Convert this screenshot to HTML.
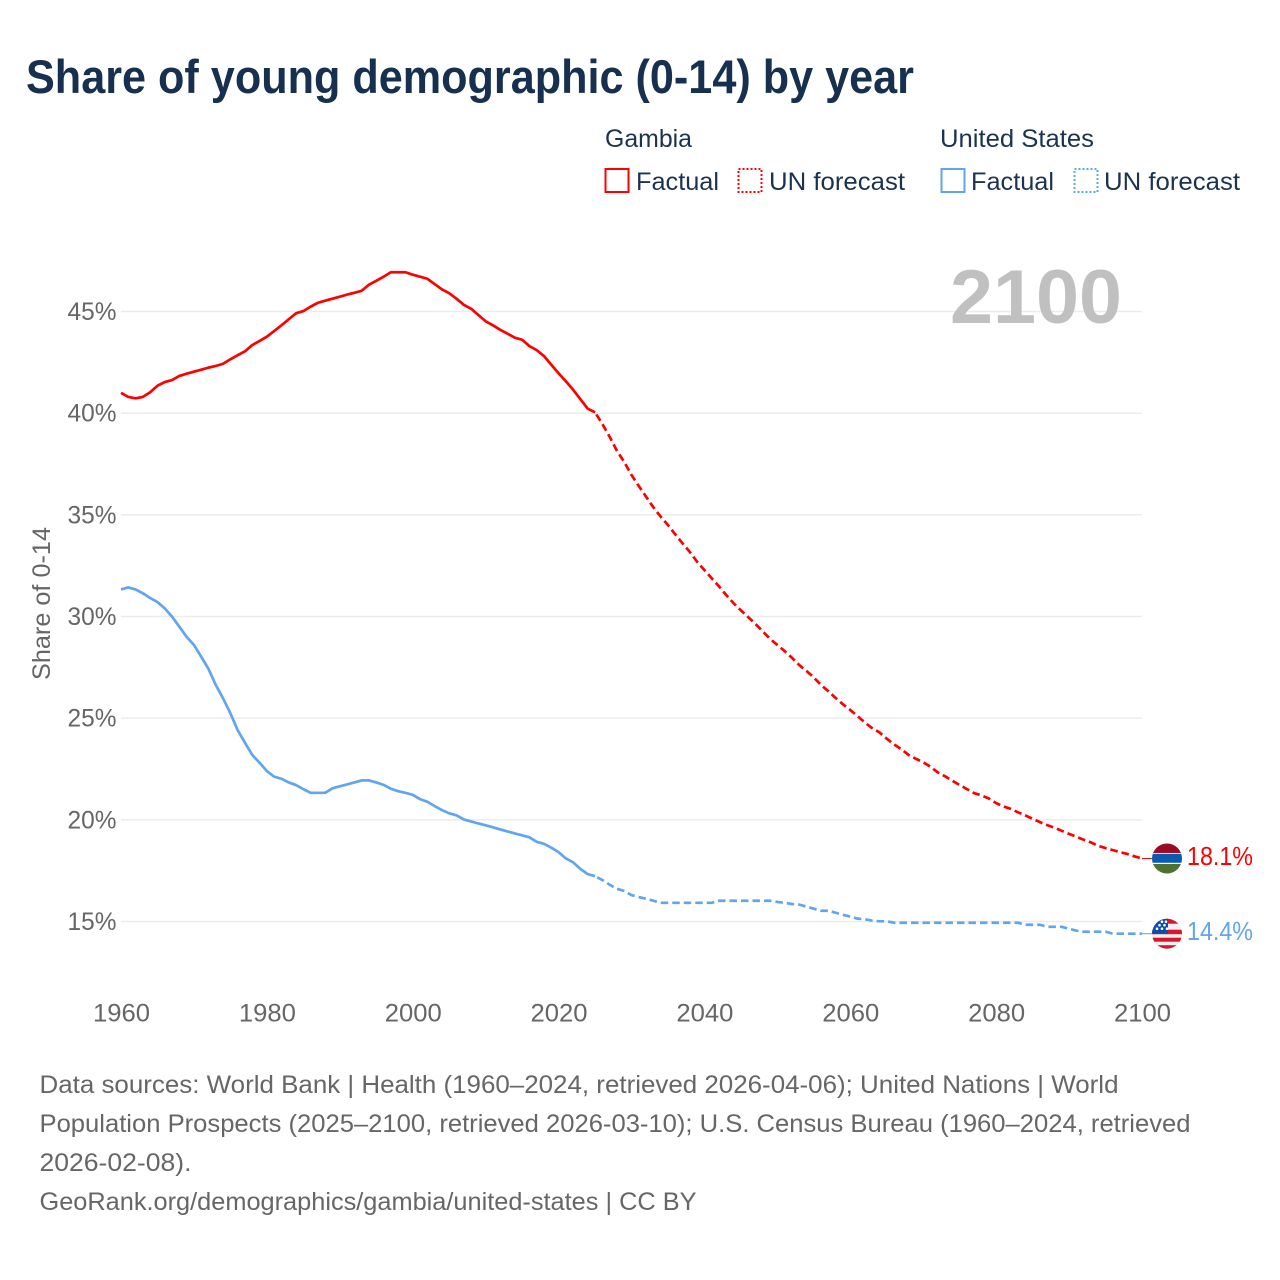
<!DOCTYPE html>
<html lang="en">
<head>
<meta charset="utf-8">
<title>Share of young demographic (0-14) by year</title>
<style>
  html, body { margin: 0; padding: 0; background: #fff; }
  svg { display: block; font-family: "Liberation Sans", sans-serif; }
  .legend-text { fill: #1b3350; font-size: 25px; }
  .foot { fill: #666; font-size: 25px; }
  .tick { fill: #666; font-size: 25px; }
</style>
</head>
<body>
<svg id="chart" xmlns="http://www.w3.org/2000/svg" width="1280" height="1280" viewBox="0 0 1280 1280">
  <rect x="0" y="0" width="1280" height="1280" fill="#fff"/>
  <text x="26" y="93" font-size="47" font-weight="700" fill="#17304f" textLength="888" lengthAdjust="spacingAndGlyphs">Share of young demographic (0-14) by year</text>

  <g>
    <text class="legend-text" x="605" y="147" textLength="87" lengthAdjust="spacingAndGlyphs">Gambia</text>
    <text class="legend-text" x="940" y="147" textLength="154" lengthAdjust="spacingAndGlyphs">United States</text>
    <g>
      <rect x="605.5" y="169" width="23" height="23" fill="none" stroke="#ff0000" stroke-width="2"/>
      <text class="legend-text" x="636" y="190" textLength="83" lengthAdjust="spacingAndGlyphs">Factual</text>
    </g>
    <g>
      <rect x="738.5" y="169" width="23" height="23" fill="none" stroke="#ff0000" stroke-width="2" stroke-dasharray="2 2"/>
      <text class="legend-text" x="769" y="190" textLength="136" lengthAdjust="spacingAndGlyphs">UN forecast</text>
    </g>
    <g>
      <rect x="941.5" y="169" width="23" height="23" fill="none" stroke="#60a5ee" stroke-width="2"/>
      <text class="legend-text" x="971" y="190" textLength="83" lengthAdjust="spacingAndGlyphs">Factual</text>
    </g>
    <g>
      <rect x="1074.5" y="169" width="23" height="23" fill="none" stroke="#60a5ee" stroke-width="2" stroke-dasharray="2 2"/>
      <text class="legend-text" x="1104" y="190" textLength="136" lengthAdjust="spacingAndGlyphs">UN forecast</text>
    </g>
  </g>

  <text class="tick" transform="translate(50,680) rotate(-90)" x="0" y="0" textLength="153" lengthAdjust="spacingAndGlyphs">Share of 0-14</text>

  <g id="grid"></g>
  <g id="yticks"></g>
  <g id="xticks"></g>

  <text x="950" y="323" font-size="76" font-weight="700" fill="#c0c0c0" textLength="172" lengthAdjust="spacingAndGlyphs">2100</text>

  <g id="series"></g>

  <defs>
    <clipPath id="flag-clip"><circle cx="0" cy="0" r="15"/></clipPath>
  </defs>
  <g id="flag-gambia">
    <g clip-path="url(#flag-clip)">
      <rect x="-16" y="-16" width="32" height="32" fill="#fff"/>
      <rect x="-16" y="-16" width="32" height="10.5" fill="#9a0b25"/>
      <rect x="-16" y="-4.7" width="32" height="9" fill="#0c5ab0"/>
      <rect x="-16" y="5.5" width="32" height="10.5" fill="#4f7130"/>
    </g>
  </g>
  <g id="flag-us">
    <g clip-path="url(#flag-clip)">
      <rect x="-16" y="-16" width="32" height="32" fill="#f0f0f0"/>
      <rect x="-16" y="-16" width="32" height="6" fill="#d8152f"/>
      <rect x="-16" y="-4" width="32" height="4.5" fill="#d8152f"/>
      <rect x="-16" y="4" width="32" height="4" fill="#d8152f"/>
      <rect x="-16" y="11.5" width="32" height="4.5" fill="#d8152f"/>
      <rect x="-16" y="-16" width="17" height="16" fill="#0c4fa8"/>
      <g fill="#fff">
        <circle cx="-10" cy="-5" r="1.3"/><circle cx="-5" cy="-5" r="1.3"/><circle cx="0" cy="-5" r="1.3"/>
        <circle cx="-7.5" cy="-8.5" r="1.3"/><circle cx="-2.5" cy="-8.5" r="1.3"/>
        <circle cx="-5" cy="-12" r="1.3"/><circle cx="-1" cy="-12" r="1.3"/>
      </g>
    </g>
  </g>
  <text id="label-gambia" x="1187" font-size="26" fill="#ff0000" textLength="66" lengthAdjust="spacingAndGlyphs"></text>
  <text id="label-us" x="1187" font-size="26" fill="#60a5ee" textLength="66" lengthAdjust="spacingAndGlyphs"></text>

  <g>
    <text class="foot" x="39.5" y="1093" textLength="1079" lengthAdjust="spacingAndGlyphs">Data sources: World Bank | Health (1960–2024, retrieved 2026-04-06); United Nations | World</text>
    <text class="foot" x="39.5" y="1132" textLength="1151" lengthAdjust="spacingAndGlyphs">Population Prospects (2025–2100, retrieved 2026-03-10); U.S. Census Bureau (1960–2024, retrieved</text>
    <text class="foot" x="39.5" y="1171" textLength="152" lengthAdjust="spacingAndGlyphs">2026-02-08).</text>
    <text class="foot" x="39.5" y="1210" textLength="657" lengthAdjust="spacingAndGlyphs">GeoRank.org/demographics/gambia/united-states | CC BY</text>
  </g>
</svg>

<script>
const xTicks = [1960, 1980, 2000, 2020, 2040, 2060, 2080, 2100];
const yTicks = [15, 20, 25, 30, 35, 40, 45];
const factualStartYear = 1960;
const forecastStartYear = 2025;

const gambiaFactual = [
  41.0, 40.8, 40.73, 40.8, 41.03, 41.35, 41.53, 41.63, 41.83, 41.94,
  42.04, 42.14, 42.24, 42.32, 42.43, 42.65, 42.85, 43.04, 43.35, 43.55,
  43.76, 44.04, 44.32, 44.62, 44.91, 45.02, 45.24, 45.43, 45.53, 45.63,
  45.73, 45.83, 45.92, 46.02, 46.32, 46.51, 46.71, 46.93, 46.93, 46.93,
  46.81, 46.71, 46.61, 46.35, 46.09, 45.9, 45.63, 45.33, 45.14, 44.83,
  44.52, 44.32, 44.1, 43.91, 43.71, 43.61, 43.3, 43.1, 42.81, 42.38,
  41.96, 41.57, 41.15, 40.68, 40.22, 40.04
];
const gambiaForecast = [
  40.04, 39.47, 38.84, 38.15, 37.6, 36.96, 36.42, 35.89, 35.37, 34.91,
  34.5, 34.04, 33.6, 33.17, 32.69, 32.28, 31.88, 31.48, 31.05, 30.65,
  30.3, 29.97, 29.63, 29.27, 28.9, 28.6, 28.3, 27.97, 27.61, 27.32,
  27.0, 26.63, 26.32, 25.99, 25.68, 25.4, 25.1, 24.79, 24.51, 24.3,
  23.99, 23.71, 23.47, 23.19, 23.0, 22.83, 22.61, 22.33, 22.14, 21.92,
  21.71, 21.51, 21.31, 21.2, 21.05, 20.82, 20.66, 20.54, 20.37, 20.22,
  20.05, 19.89, 19.74, 19.61, 19.46, 19.31, 19.17, 19.02, 18.89, 18.72,
  18.61, 18.51, 18.41, 18.32, 18.2, 18.1
];
const usFactual = [
  31.33, 31.43, 31.33, 31.14, 30.91, 30.71, 30.4, 29.99, 29.5, 29.0,
  28.6, 28.02, 27.42, 26.63, 25.97, 25.24, 24.41, 23.79, 23.19, 22.81,
  22.4, 22.12, 22.02, 21.84, 21.71, 21.51, 21.33, 21.33, 21.33, 21.55,
  21.65, 21.74, 21.84, 21.94, 21.94, 21.84, 21.72, 21.53, 21.41, 21.33,
  21.23, 21.02, 20.89, 20.68, 20.48, 20.32, 20.22, 20.02, 19.92, 19.82,
  19.73, 19.63, 19.53, 19.43, 19.33, 19.24, 19.14, 18.92, 18.82, 18.63,
  18.41, 18.1, 17.91, 17.58, 17.33, 17.23
];
const usForecast = [
  17.23, 17.04, 16.81, 16.61, 16.5, 16.3, 16.2, 16.12, 16.02, 15.92,
  15.92, 15.92, 15.92, 15.92, 15.92, 15.92, 15.92, 16.02, 16.02, 16.02,
  16.02, 16.02, 16.02, 16.02, 16.02, 15.96, 15.92, 15.86, 15.83, 15.73,
  15.63, 15.53, 15.53, 15.43, 15.33, 15.24, 15.14, 15.11, 15.04, 15.01,
  15.01, 14.94, 14.94, 14.94, 14.94, 14.94, 14.94, 14.94, 14.94, 14.94,
  14.94, 14.94, 14.94, 14.94, 14.94, 14.94, 14.94, 14.94, 14.94, 14.84,
  14.84, 14.84, 14.74, 14.74, 14.74, 14.64, 14.55, 14.5, 14.5, 14.5,
  14.5, 14.4, 14.4, 14.4, 14.4, 14.4
];
const gambiaEndLabel = '18.1%';
const usEndLabel = '14.4%';

const SVG_NS = 'http://www.w3.org/2000/svg';
function xScale(year) { return 121 + (year - 1960) * (1021 / 140); }
function yScale(v) { return 921.5 - (v - 15) * (610 / 30); }
function pathFrom(values, startYear) {
  return values.map(function (v, i) {
    return (i ? 'L' : 'M') + xScale(startYear + i).toFixed(2) + ' ' + yScale(v).toFixed(2);
  }).join(' ');
}

const gridG = document.getElementById('grid');
const yG = document.getElementById('yticks');
const xG = document.getElementById('xticks');
const seriesG = document.getElementById('series');

yTicks.forEach(function (t) {
  const line = document.createElementNS(SVG_NS, 'line');
  
  
  line.setAttribute('x1', xScale(1960));
  line.setAttribute('x2', xScale(2100));
  line.setAttribute('y1', yScale(t));
  line.setAttribute('y2', yScale(t));
  line.setAttribute('stroke', '#ececec');
  line.setAttribute('stroke-width', '1.5');
  gridG.appendChild(line);

  const label = document.createElementNS(SVG_NS, 'text');
  
  
  label.setAttribute('class', 'tick');
  label.setAttribute('x', 116.5);
  label.setAttribute('y', yScale(t) + 8.5);
  label.setAttribute('text-anchor', 'end');
  label.setAttribute('textLength', '49');
  label.setAttribute('lengthAdjust', 'spacingAndGlyphs');
  label.textContent = t + '%';
  yG.appendChild(label);
});

xTicks.forEach(function (t) {
  const label = document.createElementNS(SVG_NS, 'text');
  
  
  label.setAttribute('class', 'tick');
  label.setAttribute('x', xScale(t) + 0.5);
  label.setAttribute('y', 1021.5);
  label.setAttribute('text-anchor', 'middle');
  label.setAttribute('textLength', '57');
  label.setAttribute('lengthAdjust', 'spacingAndGlyphs');
  label.textContent = t;
  xG.appendChild(label);
});

function addLine(name, values, startYear, color, dashed) {
  const p = document.createElementNS(SVG_NS, 'path');
  
  
  p.setAttribute('d', pathFrom(values, startYear));
  p.setAttribute('fill', 'none');
  p.setAttribute('stroke', color);
  p.setAttribute('stroke-width', '2.7');
  p.setAttribute('stroke-linejoin', 'round');
  if (dashed) {
    p.setAttribute('stroke-dasharray', '7.5 4');
    p.setAttribute('stroke-dashoffset', '9');
  }
  seriesG.appendChild(p);
}
addLine('line-gambia-factual', gambiaFactual, factualStartYear, '#ff0000', false);
addLine('line-gambia-forecast', gambiaForecast, forecastStartYear, '#ff0000', true);
addLine('line-us-factual', usFactual, factualStartYear, '#60a5ee', false);
addLine('line-us-forecast', usForecast, forecastStartYear, '#60a5ee', true);

function addConnector(name, value, color) {
  const c = document.createElementNS(SVG_NS, 'line');
  
  
  c.setAttribute('x1', xScale(2100));
  c.setAttribute('x2', 1152);
  c.setAttribute('y1', yScale(value));
  c.setAttribute('y2', yScale(value));
  c.setAttribute('stroke', color);
  c.setAttribute('stroke-width', '1');
  seriesG.appendChild(c);
}
const gambiaLast = gambiaForecast[gambiaForecast.length - 1];
const usLast = usForecast[usForecast.length - 1];
addConnector('connector-gambia', gambiaLast, '#ff0000');
addConnector('connector-us', usLast, '#60a5ee');

document.getElementById('flag-gambia').setAttribute('transform', 'translate(1167,' + yScale(gambiaLast) + ')');
document.getElementById('flag-us').setAttribute('transform', 'translate(1167,' + yScale(usLast) + ')');
const lg = document.getElementById('label-gambia');
lg.setAttribute('y', yScale(gambiaLast) + 6.5);
lg.textContent = gambiaEndLabel;
const lu = document.getElementById('label-us');
lu.setAttribute('y', yScale(usLast) + 6.3);
lu.textContent = usEndLabel;
</script>
</body>
</html>
